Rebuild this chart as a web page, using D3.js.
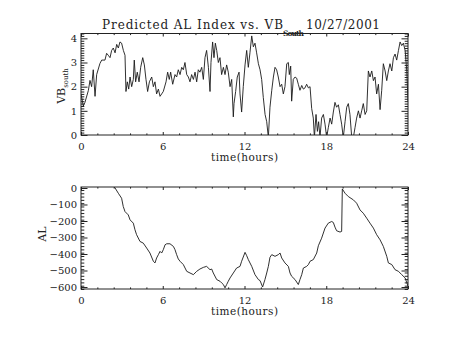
<!DOCTYPE html>
<html>
<head>
<meta charset="utf-8">
<script src="https://cdn.jsdelivr.net/npm/d3@7"></script>
<style>
  body { margin: 0; background: #fff; }
  text { font-family: "DejaVu Serif", serif; fill: #222; }
</style>
</head>
<body>
<svg id="chart" width="454" height="341"></svg>
<script>
// Southward IMF component (VB_south), 27 Oct 2001
const vbTime = [0.0,0.17,0.29,0.54,0.66,0.78,0.9,1.03,1.15,1.39,1.52,1.76,1.88,2.0,2.13,2.25,2.37,2.5,2.62,2.74,2.86,2.98,3.11,3.23,3.3,3.4,3.5,3.6,3.72,3.84,3.91,4.01,4.13,4.26,4.38,4.53,4.65,4.77,4.89,5.02,5.19,5.31,5.43,5.55,5.68,5.8,5.92,6.04,6.24,6.36,6.48,6.58,6.73,6.9,7.02,7.14,7.27,7.39,7.51,7.63,7.76,7.88,8.0,8.12,8.25,8.37,8.49,8.61,8.73,8.86,8.98,9.1,9.22,9.35,9.47,9.54,9.66,9.76,9.86,9.96,10.08,10.2,10.32,10.45,10.57,10.69,10.81,10.94,11.06,11.18,11.23,11.35,11.47,11.6,11.67,11.79,11.91,12.04,12.16,12.28,12.4,12.53,12.65,12.77,12.89,13.02,13.14,13.26,13.38,13.51,13.63,13.75,13.87,14.0,14.12,14.24,14.36,14.48,14.61,14.73,14.85,14.97,15.1,15.22,15.29,15.39,15.46,15.58,15.71,15.83,15.95,16.07,16.2,16.32,16.44,16.56,16.69,16.81,16.93,17.05,17.13,17.25,17.35,17.44,17.54,17.66,17.79,17.91,18.03,18.15,18.28,18.4,18.52,18.64,18.76,18.89,19.01,19.13,19.25,19.38,19.5,19.62,19.74,19.87,19.99,20.11,20.23,20.36,20.48,20.6,20.72,20.85,20.97,21.09,21.21,21.34,21.46,21.58,21.7,21.83,21.95,22.07,22.19,22.32,22.44,22.56,22.68,22.81,22.93,23.05,23.17,23.3,23.42,23.54,23.66,23.79,23.91,24.0];
const vbSouth = [1.7,1.2,1.35,1.84,2.26,2.0,2.7,1.6,2.5,2.96,3.1,3.1,3.38,3.3,3.2,3.5,3.6,3.4,3.75,3.6,3.85,3.8,3.5,3.3,1.8,2.2,1.9,2.4,2.0,2.3,3.1,2.2,2.6,2.2,2.8,3.2,2.9,2.3,1.8,2.2,2.4,2.0,2.2,1.7,1.9,1.6,1.7,1.8,2.2,2.6,2.3,2.6,2.1,2.5,2.4,2.7,2.5,2.8,2.7,3.0,2.5,2.4,2.2,2.5,2.3,2.6,2.2,2.7,2.6,2.8,2.3,3.2,3.5,2.8,1.8,3.0,3.85,3.2,3.8,3.5,3.0,3.2,2.5,2.8,2.5,2.9,2.6,2.0,2.3,0.75,1.3,1.8,2.4,2.6,1.7,0.95,2.0,2.9,3.5,2.8,3.4,4.1,3.65,3.8,3.4,2.95,2.7,2.3,1.55,0.85,0.55,-0.1,1.15,1.85,2.4,2.8,2.7,2.4,2.0,2.1,1.7,2.0,2.95,3.0,2.5,2.85,1.4,2.3,2.4,2.35,2.1,1.85,2.05,1.9,1.95,2.1,1.95,2.0,1.1,0.7,-0.1,0.85,0.15,0.55,-0.1,0.7,0.85,0.45,-0.1,0.3,0.7,0.45,0.95,1.35,1.15,1.25,0.85,0.45,-0.1,0.55,1.15,1.3,0.85,-0.1,-0.1,0.3,0.7,1.0,0.7,1.0,1.3,0.85,1.0,2.65,2.4,2.65,2.25,2.4,1.7,2.1,1.05,1.85,2.95,2.65,2.25,2.65,2.95,2.65,3.2,3.35,3.1,3.5,3.85,3.7,3.8,3.5,2.65,1.4];

// Predicted AL index (nT)
const alTime = [2.35,2.5,2.74,2.98,3.1,3.23,3.47,3.6,3.84,3.96,4.08,4.33,4.57,4.82,5.06,5.31,5.43,5.55,5.68,5.8,5.92,6.04,6.17,6.29,6.53,6.78,6.9,7.02,7.14,7.27,7.51,7.76,8.0,8.25,8.49,8.73,8.98,9.22,9.47,9.59,9.71,9.96,10.2,10.32,10.45,10.57,10.69,10.81,10.94,11.18,11.42,11.67,11.79,12.04,12.16,12.28,12.53,12.77,13.02,13.14,13.33,13.5,13.63,13.75,13.87,14.0,14.24,14.48,14.61,14.73,14.97,15.22,15.34,15.46,15.71,15.95,16.07,16.2,16.32,16.56,16.69,16.81,17.05,17.3,17.42,17.66,17.91,18.15,18.4,18.52,18.64,18.76,19.01,19.13,19.18,19.38,19.62,19.99,20.23,20.48,20.72,20.97,21.21,21.46,21.7,21.95,22.19,22.44,22.56,22.81,23.05,23.3,23.54,23.79,24.0];
const alValue = [15,0,-32,-62,-112,-143,-163,-193,-213,-253,-283,-324,-334,-364,-394,-444,-454,-424,-404,-384,-394,-374,-344,-338,-338,-354,-374,-404,-430,-444,-464,-505,-515,-525,-505,-491,-481,-475,-495,-491,-515,-555,-565,-575,-585,-605,-585,-565,-545,-515,-485,-475,-444,-390,-410,-434,-475,-525,-555,-561,-600,-555,-515,-475,-420,-404,-414,-404,-394,-424,-454,-475,-515,-535,-555,-585,-555,-525,-485,-475,-464,-444,-434,-394,-350,-304,-243,-213,-203,-209,-237,-259,-267,-263,-6,-32,-52,-72,-92,-133,-153,-183,-213,-243,-283,-314,-354,-414,-454,-464,-495,-505,-525,-545,-595];

const hourTicks = [0, 6, 12, 18, 24];
const vbTicks = [0, 1, 2, 3, 4];
const alTicks = [0, -100, -200, -300, -400, -500, -600];

const svg = d3.select("#chart");
svg.append("rect").attr("width", 454).attr("height", 341).attr("fill", "#fff");

const left = 81, right = 408;

function minorValues(start, stop, step) {
  return d3.range(Math.round((stop - start) / step) + 1).map(i => +(start + i * step).toFixed(6));
}

function panel(opts) {
  const { top, bottom, domain, yTicks, yMinorStep, times, values, id } = opts;
  const x = d3.scaleLinear().domain([0, 24]).range([left, right]);
  const y = d3.scaleLinear().domain(domain).range([bottom, top]);
  const g = svg.append("g");

  g.append("clipPath").attr("id", id).append("rect")
    .attr("x", left).attr("y", top).attr("width", right - left).attr("height", bottom - top);

  // data trace
  g.append("path")
    .datum(d3.zip(times, values))
    .attr("clip-path", `url(#${id})`)
    .attr("fill", "none")
    .attr("stroke", "#1a1a1a")
    .attr("stroke-width", 0.9)
    .attr("stroke-linejoin", "round")
    .attr("d", d3.line().x(d => x(d[0])).y(d => y(d[1])));

  const xMinor = minorValues(0, 24, 1.2).filter(v => !hourTicks.includes(v));
  const yMinor = minorValues(domain[0], domain[1], yMinorStep)
    .filter(v => v >= domain[0] && v <= domain[1] && !yTicks.some(t => Math.abs(t - v) < 1e-6));

  const styleAxis = sel => {
    sel.select(".domain").remove();
    sel.selectAll("line").attr("stroke", "#222").attr("stroke-width", 1);
    sel.selectAll("text").attr("font-family", "DejaVu Serif, serif").attr("font-size", 10).attr("fill", "#222");
  };

  // bottom x axis with labels
  g.append("g").attr("transform", `translate(0,${bottom})`)
    .call(d3.axisBottom(x).tickValues(hourTicks).tickSizeInner(-3).tickSizeOuter(0).tickPadding(8))
    .call(styleAxis);
  g.append("g").attr("transform", `translate(0,${bottom})`)
    .call(d3.axisBottom(x).tickValues(xMinor).tickSizeInner(-1.6).tickSizeOuter(0).tickFormat(""))
    .call(styleAxis);
  // top x axis, ticks only
  g.append("g").attr("transform", `translate(0,${top})`)
    .call(d3.axisTop(x).tickValues(hourTicks).tickSizeInner(-3).tickSizeOuter(0).tickFormat(""))
    .call(styleAxis);
  g.append("g").attr("transform", `translate(0,${top})`)
    .call(d3.axisTop(x).tickValues(xMinor).tickSizeInner(-1.6).tickSizeOuter(0).tickFormat(""))
    .call(styleAxis);
  // left y axis with labels
  g.append("g").attr("transform", `translate(${left},0)`)
    .call(d3.axisLeft(y).tickValues(yTicks).tickSizeInner(-6.5).tickSizeOuter(0).tickPadding(4).tickFormat(d3.format("d")))
    .call(styleAxis);
  g.append("g").attr("transform", `translate(${left},0)`)
    .call(d3.axisLeft(y).tickValues(yMinor).tickSizeInner(-3.3).tickSizeOuter(0).tickFormat(""))
    .call(styleAxis);
  // right y axis, ticks only
  g.append("g").attr("transform", `translate(${right},0)`)
    .call(d3.axisRight(y).tickValues(yTicks).tickSizeInner(-6.5).tickSizeOuter(0).tickFormat(""))
    .call(styleAxis);
  g.append("g").attr("transform", `translate(${right},0)`)
    .call(d3.axisRight(y).tickValues(yMinor).tickSizeInner(-3.3).tickSizeOuter(0).tickFormat(""))
    .call(styleAxis);

  // frame
  g.append("rect")
    .attr("x", left).attr("y", top).attr("width", right - left).attr("height", bottom - top)
    .attr("fill", "none").attr("stroke", "#222").attr("stroke-width", 1);

  // x title
  g.append("text")
    .attr("x", (left + right) / 2).attr("y", bottom + 26)
    .attr("text-anchor", "middle").attr("font-size", 10.5)
    .attr("textLength", 67).attr("lengthAdjust", "spacing")
    .text("time(hours)");

  return { x, y };
}

panel({ id: "clipVB", top: 33.5, bottom: 135, domain: [0, 4.2], yTicks: vbTicks, yMinorStep: 0.1,
        times: vbTime, values: vbSouth });
panel({ id: "clipAL", top: 187, bottom: 289, domain: [-612, 6], yTicks: alTicks, yMinorStep: 20,
        times: alTime, values: alValue });

// y titles
const vbLabel = svg.append("text")
  .attr("transform", "translate(65,86) rotate(-90)")
  .attr("text-anchor", "middle").attr("font-size", 11);
vbLabel.append("tspan").text("VB");
vbLabel.append("tspan").attr("font-size", 7).attr("dy", 3).text("south");

svg.append("text")
  .attr("transform", "translate(46,234) rotate(-90)")
  .attr("text-anchor", "middle").attr("font-size", 11)
  .text("AL");

// main title
const title = svg.append("g");
title.append("text").attr("x", 102).attr("y", 29).attr("font-size", 12)
  .attr("textLength", 181).attr("lengthAdjust", "spacing")
  .text("Predicted AL Index vs. VB");
title.append("text").attr("x", 283).attr("y", 36).attr("font-size", 7.5).attr("font-weight", "bold")
  .attr("textLength", 21).attr("lengthAdjust", "spacing")
  .text("South");
title.append("text").attr("x", 306).attr("y", 29).attr("font-size", 12)
  .attr("textLength", 74).attr("lengthAdjust", "spacing")
  .text("10/27/2001");
</script>
</body>
</html>
